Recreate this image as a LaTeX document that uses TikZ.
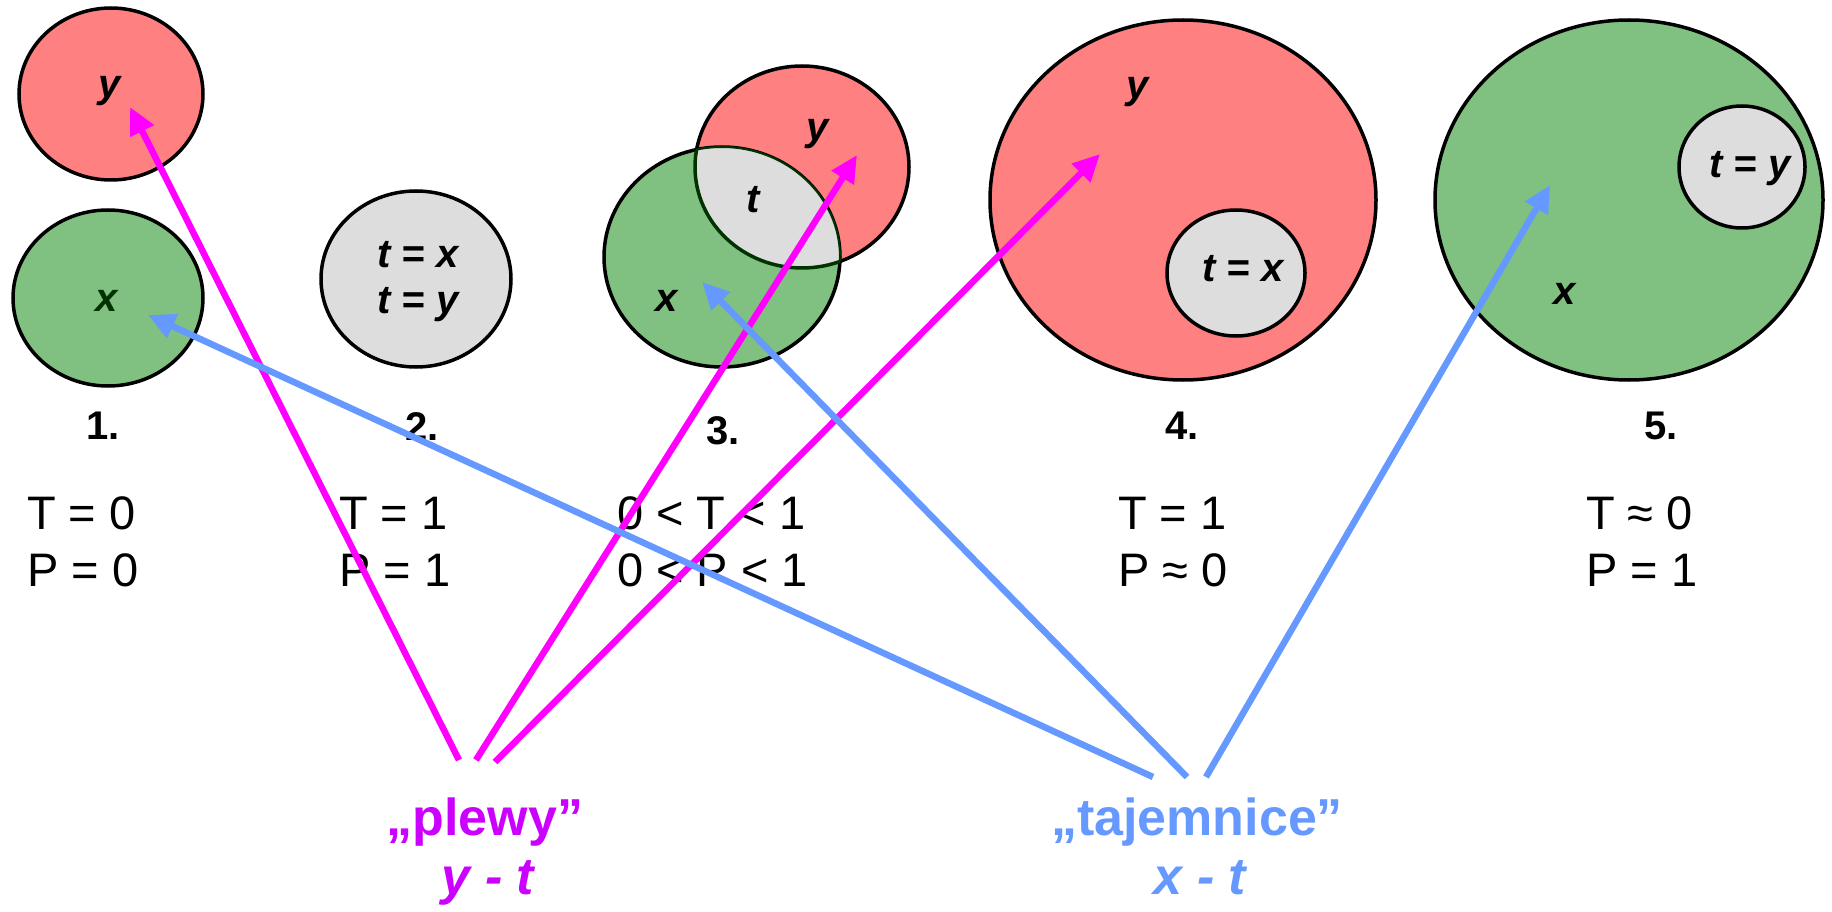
\documentclass[tikz,border=0pt]{standalone}
\usepackage{fontspec}
\setmainfont{Liberation Sans}
\usetikzlibrary{arrows.meta}
\definecolor{cred}{HTML}{FF8080}
\definecolor{cgreen}{HTML}{80C080}
\definecolor{cgrey}{HTML}{DDDDDD}
\definecolor{cpink}{HTML}{FF00FF}
\definecolor{cpurple}{HTML}{CC00FF}
\definecolor{cblue}{HTML}{6699FF}
\definecolor{cdkgreen}{HTML}{003300}
\begin{document}
\begin{tikzpicture}[x=1pt,y=-1pt,
  setline/.style={draw=black,line width=3.5pt},
  redset/.style={setline,fill=cred},
  greenset/.style={setline,fill=cgreen},
  greyset/.style={setline,fill=cgrey},
  varlab/.style={anchor=base,inner sep=0pt,font=\fontsize{40}{45}\selectfont\bfseries\itshape},
  numlab/.style={anchor=base,inner sep=0pt,font=\fontsize{40}{45}\selectfont\bfseries},
  vallab/.style={anchor=base west,inner sep=0pt,font=\fontsize{47}{57}\selectfont},
  bigword/.style={anchor=base,inner sep=0pt,font=\fontsize{52}{56}\selectfont\bfseries},
  bigvar/.style={anchor=base,inner sep=0pt,font=\fontsize{52}{56}\selectfont\bfseries\itshape},
  pinkarrow/.style={draw=cpink,line width=6.5pt,-{Triangle[length=27pt,width=25pt]}},
  bluearrow/.style={draw=cblue,line width=6.5pt,-{Triangle[length=27pt,width=25pt]}}
]
\useasboundingbox (0,0) rectangle (1832,912);

% --- set 1 ---
\draw[redset] (111,94) ellipse [x radius=92pt, y radius=86pt];
\draw[greenset] (108,298) ellipse [x radius=95pt, y radius=88pt];
\node[varlab] (y1) at (110,98) {y};
\node[varlab,text=cdkgreen] (x1) at (107,312) {x};

% --- set 2 ---
\draw[greyset] (416,279) ellipse [x radius=95pt, y radius=88pt];
\node[varlab] (tx2) at (418,268) {t = x};
\node[varlab] (ty2) at (418,313) {t = y};

% --- set 3 ---
\draw[redset] (802,167) ellipse [x radius=107pt, y radius=101pt];
\draw[greenset] (722,257) ellipse [x radius=118pt, y radius=110pt];
\begin{scope}
  \clip (802,167) ellipse [x radius=107pt, y radius=101pt];
  \fill[cgrey] (722,257) ellipse [x radius=118pt, y radius=110pt];
  \draw[cdkgreen,line width=2pt] (722,257) ellipse [x radius=118pt, y radius=110pt];
\end{scope}
\begin{scope}
  \clip (722,257) ellipse [x radius=118pt, y radius=110pt];
  \draw[cdkgreen,line width=3.5pt] (802,167) ellipse [x radius=107pt, y radius=101pt];
\end{scope}
\node[varlab] (y3) at (818,141) {y};
\node[varlab] (t3) at (753,213) {t};
\node[varlab] (x3) at (667,312) {x};

% --- set 4 ---
\draw[redset] (1183,200) ellipse [x radius=193pt, y radius=180pt];
\draw[greyset] (1236,273) ellipse [x radius=69pt, y radius=63pt];
\node[varlab] (y4) at (1138,99) {y};
\node[varlab] (tx4) at (1243,282) {t = x};

% --- set 5 ---
\draw[greenset] (1629,200) ellipse [x radius=194pt, y radius=180pt];
\draw[greyset] (1742,167) ellipse [x radius=63pt, y radius=61pt];
\node[varlab] (ty5) at (1750,178) {t = y};
\node[varlab] (x5) at (1565,305) {x};

% --- numbers ---
\node[numlab] (n1) at (103,439) {1.};
\node[numlab] (n2) at (422,440) {2.};
\node[numlab] (n3) at (723,444) {3.};
\node[numlab] (n4) at (1182,439) {4.};
\node[numlab] (n5) at (1661,439) {5.};

% --- values ---
\node[vallab] (T1) at (27,529) {T = 0};
\node[vallab] (P1) at (27,586) {P = 0};
\node[vallab] (T2) at (339,529) {T = 1};
\node[vallab] (P2) at (339,586) {P = 1};
\node[vallab] (T3) at (617,529) {0 < T < 1};
\node[vallab] (P3) at (617,586) {0 < P < 1};
\node[vallab] (T4) at (1118,529) {T = 1};
\node[vallab] (P4) at (1118,586) {P ≈ 0};
\node[vallab] (T5) at (1586,529) {T ≈ 0};
\node[vallab] (P5) at (1586,586) {P = 1};

% --- bottom labels ---
\node[bigword,text=cpurple] (plewy) at (485,835) {„plewy”};
\node[bigvar,text=cpurple] (yt) at (488,894) {y - t};
\node[bigword,text=cblue] (taj) at (1197,835) {„tajemnice”};
\node[bigvar,text=cblue] (xt) at (1200,894) {x - t};

% --- arrow ends ---
\coordinate (ps0) at (459,760);
\coordinate (ps1) at (476,760);
\coordinate (ps2) at (495,762);
\coordinate (pt0) at (130,107);
\coordinate (pt1) at (857,155);
\coordinate (pt2) at (1100,154);
\coordinate (bs0) at (1153,777);
\coordinate (bs1) at (1187,777);
\coordinate (bs2) at (1206,777);
\coordinate (bt0) at (148,315);
\coordinate (bt1) at (702,282);
\coordinate (bt2) at (1550,185);

\draw[pinkarrow] (ps0) -- (pt0);
\draw[pinkarrow] (ps1) -- (pt1);
\draw[pinkarrow] (ps2) -- (pt2);
\draw[bluearrow] (bs0) -- (bt0);
\draw[bluearrow] (bs1) -- (bt1);
\draw[bluearrow] (bs2) -- (bt2);
\end{tikzpicture}
\end{document}
